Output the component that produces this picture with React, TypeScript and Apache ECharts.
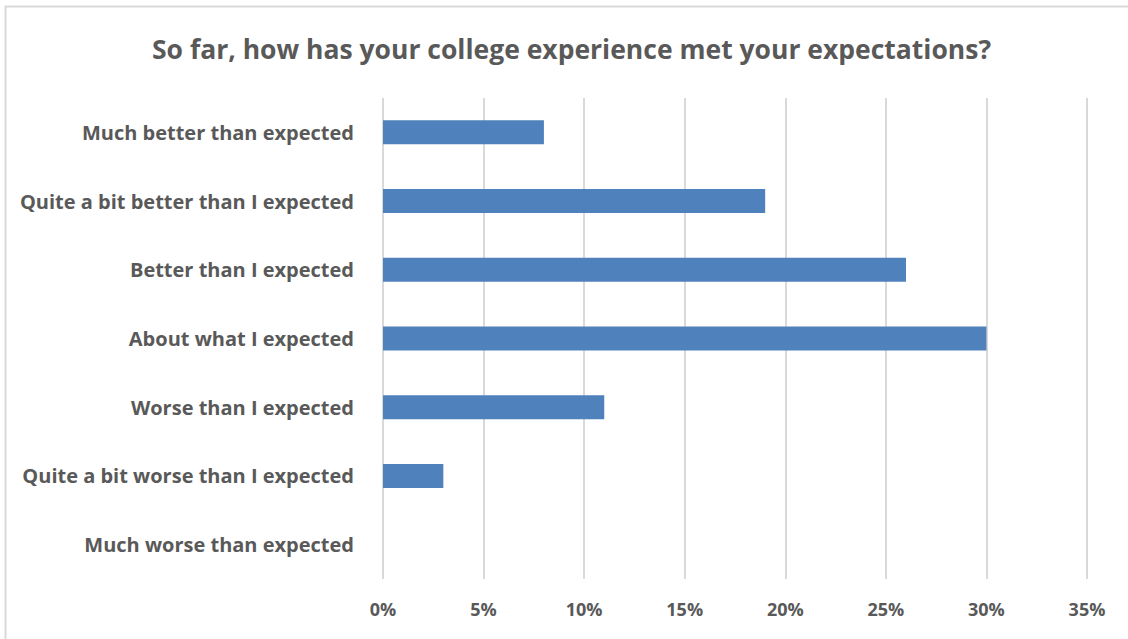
import React, { useEffect, useRef } from "react";
import * as echarts from "echarts";

const titleText = "So far, how has your college experience met your expectations?";
const categories = [
  "Much better than expected",
  "Quite a bit better than I expected",
  "Better than I expected",
  "About what I expected",
  "Worse than I expected",
  "Quite a bit worse than I expected",
  "Much worse than expected",
];
const values = [8, 19, 26, 30, 11, 3, 0];
const axisMax = 35;
const axisStep = 5;

export default function App() {
  const ref = useRef<HTMLDivElement>(null);
  useEffect(() => {
    if (!ref.current) return;
    const chart = echarts.init(ref.current, null, { renderer: "svg" });
    const font = "'Open Sans', 'Noto Sans', sans-serif";
    chart.setOption({
      animation: false,
      backgroundColor: "#ffffff",
      title: {
        text: titleText,
        left: 147,
        top: 30,
        textStyle: { fontFamily: font, fontSize: 26.5, fontWeight: "bold", color: "#595959" },
      },
      graphic: [
        {
          type: "rect",
          shape: { x: 5.5, y: 6.5, width: 1130, height: 640 },
          style: { fill: "none", stroke: "#d9d9d9", lineWidth: 2 },
          silent: true,
        },
      ],
      grid: { left: 383, right: 41, top: 98, bottom: 60, containLabel: false },
      xAxis: {
        type: "value",
        min: 0,
        max: axisMax,
        interval: axisStep,
        axisLine: { show: false },
        axisTick: { show: false },
        splitLine: { show: true, lineStyle: { color: "#d9d9d9", width: 2 } },
        axisLabel: {
          formatter: (v: number) => `${v}%`,
          margin: 21,
          fontFamily: font,
          fontSize: 18,
          fontWeight: "bold",
          color: "#595959",
        },
      },
      yAxis: {
        type: "category",
        inverse: true,
        data: categories,
        axisLine: { show: false },
        axisTick: { show: false },
        axisLabel: {
          margin: 29,
          fontFamily: font,
          fontSize: 20,
          fontWeight: "bold",
          color: "#595959",
        },
      },
      series: [
        {
          type: "bar",
          data: values,
          barWidth: 24,
          itemStyle: { color: "#4f81bd" },
        },
      ],
    });
    return () => chart.dispose();
  }, []);
  return (
    <div
      ref={ref}
      style={{ position: "fixed", left: 0, top: 0, width: 1128, height: 639 }}
    />
  );
}
